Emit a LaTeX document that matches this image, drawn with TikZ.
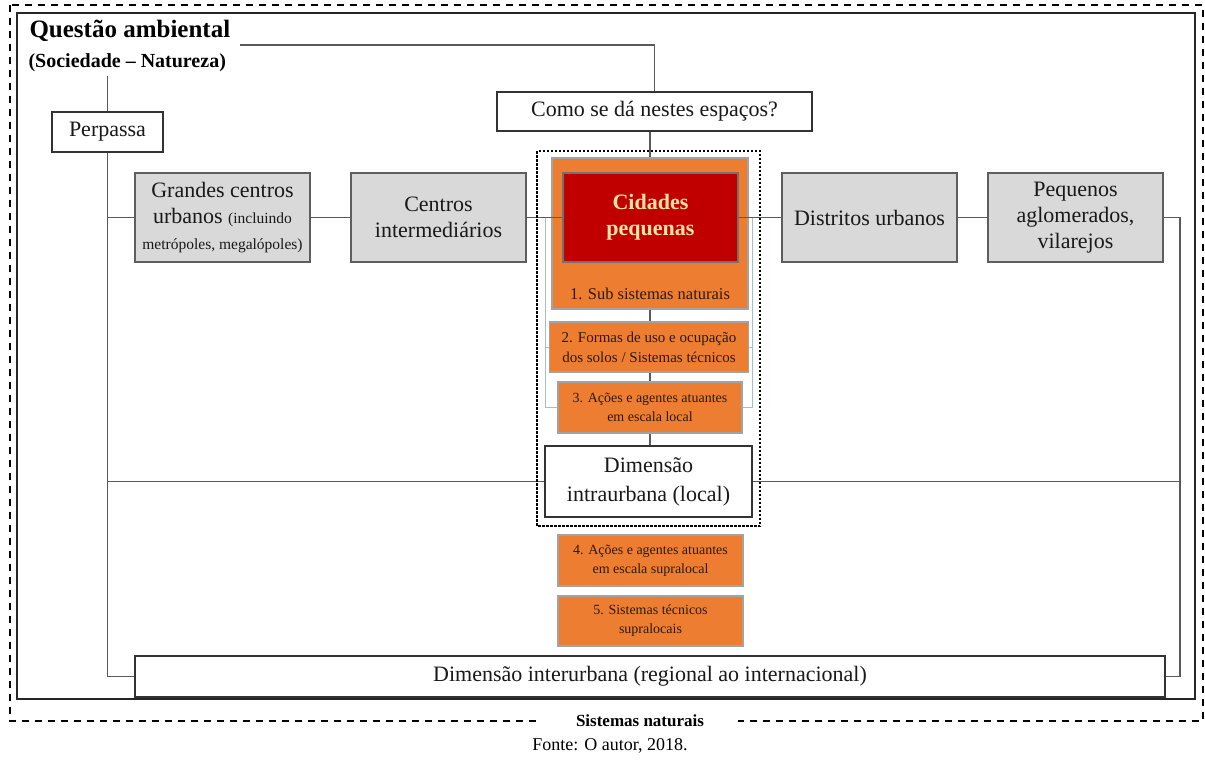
\documentclass[tikz,border=0pt]{standalone}
\usepackage{fontspec}
\setmainfont{Liberation Serif}

\definecolor{boxgray}{HTML}{D9D9D9}
\definecolor{edgegray}{HTML}{5E5E5E}
\definecolor{boxorange}{HTML}{ED7D31}
\definecolor{orangeedge}{HTML}{A3A3A3}
\definecolor{cidred}{HTML}{C00000}
\definecolor{cidtext}{HTML}{FFE3A3}
\definecolor{orangetext}{HTML}{2E1A0E}
\definecolor{linkgray}{HTML}{5A5A5A}
\definecolor{faintblue}{HTML}{A9BCD0}

\newcommand{\titlefs}{\fontsize{25}{29}\selectfont\bfseries}
\newcommand{\subfs}{\fontsize{20}{24}\selectfont\bfseries}
\newcommand{\mainfs}{\fontsize{22}{26}\selectfont}
\newcommand{\smallfs}{\fontsize{15.5}{18}\selectfont}
\newcommand{\midfs}{\fontsize{16.5}{20}\selectfont}
\newcommand{\formfs}{\fontsize{15}{20}\selectfont}
\newcommand{\boxfs}{\fontsize{14}{19}\selectfont}
\newcommand{\natfs}{\fontsize{17}{20}\selectfont\bfseries}
\newcommand{\fontefs}{\fontsize{18}{21}\selectfont}

\tikzset{
  outerframe/.style={draw=black, line width=2pt, dash pattern=on 7pt off 6pt},
  innerframe/.style={draw=black!85, line width=1.3pt},
  dotframe/.style={draw=black, line width=2.8pt, dash pattern=on 2.5pt off 1.5pt},
  graybox/.style={draw=edgegray, fill=boxgray, line width=1.4pt, align=center,
    minimum width=175pt, minimum height=89pt, inner sep=1pt, font=\mainfs, text=black!90},
  whitebox/.style={draw=black!80, fill=white, line width=1.2pt, align=center,
    inner sep=1pt, font=\mainfs, text=black!90},
  orangebox/.style={draw=orangeedge, fill=boxorange, line width=1.4pt, align=center,
    inner sep=1pt, font=\boxfs, text=orangetext},
  redbox/.style={draw=orangeedge!70!black, fill=cidred, line width=1.2pt, align=center,
    minimum width=175pt, minimum height=89pt, font=\mainfs\bfseries, text=cidtext},
  link/.style={draw=linkgray, line width=1.3pt},
  faint/.style={draw=faintblue, line width=0.9pt}
}

\begin{document}
\begin{tikzpicture}[x=1pt,y=-1pt]
\useasboundingbox (0,0) rectangle (1205,764);

% Frames
\draw[outerframe] (10,5) rectangle (1203,721);
\draw[innerframe] (17,13) rectangle (1195,699);

% Title
\node[anchor=base west, font=\titlefs] (qa) at (26,37) {Questão ambiental};
\node[anchor=base west, font=\subfs] (sn) at (25,67) {(Sociedade – Natureza)};
\coordinate (qaend) at (240,45);
\coordinate (qadown) at (107.5,76);

% Boxes
\node[whitebox, minimum width=111pt, minimum height=40pt] (persp) at (107.5,132) {Perpassa};
\node[whitebox, minimum width=315pt, minimum height=39pt] (como) at (654.5,111.5) {Como se dá nestes espaços?};

\node[graybox] (grandes) at (222.5,217.5) {Grandes centros\\urbanos {\smallfs (incluindo}\\{\smallfs metrópoles, megalópoles)}};
\node[graybox] (centros) at (438.5,217.5) {Centros\\intermediários};
\node[orangebox, minimum width=196pt, minimum height=151pt] (cidbg) at (650,233.5) {};
\node[redbox] (cid) at (650.5,217.5) {Cidades\\pequenas};
\node[font=\midfs, text=orangetext] (sub1) at (650,294) {1. Sub sistemas naturais};
\node[graybox] (distritos) at (869.5,217.5) {Distritos urbanos};
\node[graybox] (pequenos) at (1075.5,217.5) {Pequenos\\aglomerados,\\vilarejos};

\node[orangebox, font=\formfs, minimum width=199pt, minimum height=50pt] (formas) at (649,347) {2. Formas de uso e ocupação\\dos solos / Sistemas técnicos};
\node[orangebox, minimum width=184pt, minimum height=51pt] (acoes) at (650,407.5) {3. Ações e agentes atuantes\\em escala local};
\node[whitebox, minimum width=207pt, minimum height=71pt, font=\fontsize{22}{29}\selectfont] (intra) at (648.5,481.5) {Dimensão\\intraurbana (local)};
\node[orangebox, minimum width=185pt, minimum height=51pt] (supra) at (650.5,560.5) {4. Ações e agentes atuantes\\em escala supralocal};
\node[orangebox, minimum width=185pt, minimum height=50pt] (tecn) at (650.5,621) {5. Sistemas técnicos\\supralocais};
\node[whitebox, minimum width=1030pt, minimum height=41pt] (inter) at (650,676.5) {Dimensão interurbana (regional ao internacional)};

% Connectors
\draw[link] (qaend) -| (como.north);
\draw[link] (qadown) -- (persp.north);
\draw[link] (persp.south) |- (inter.west);
\draw[link] (persp.south |- grandes.west) -- (grandes.west);
\draw[link] (grandes.east) -- (centros.west);
\draw[link] (centros.east) -- (cid.west);
\draw[link] (cid.east) -- (distritos.west);
\draw[link] (distritos.east) -- (pequenos.west);
\coordinate (rs) at (1180,217.5);
\draw[link] (pequenos.east) -- (rs) |- (inter.east);
\draw[link] (persp.south |- intra.west) -- (intra.west);
\draw[link] (intra.east) -- (rs |- intra.east);
\draw[link] (como.south -| cidbg.north) -- (cidbg.north);
\draw[link] (cidbg.south) -- (cidbg.south |- formas.north);
\draw[link] (cidbg.south |- formas.south) -- (cidbg.south |- acoes.north);
\draw[link] (acoes.south) -- (acoes.south |- intra.north);

% Local links
\coordinate (fl) at (545,217.5);
\coordinate (fr) at (752,217.5);
\draw[faint] (fl) |- (acoes.west);
\draw[faint] (fr) |- (acoes.east);
\draw[faint] (fl |- formas.west) -- (formas.west);
\draw[faint] (fr |- formas.east) -- (formas.east);

% Local dimension
\draw[dotframe] (537,151) rectangle (760,526);

% Bottom
\node[font=\natfs, fill=white, inner xsep=34pt, inner ysep=1pt] (nat) at (640,721) {Sistemas naturais};
\node[font=\fontefs] (fonte) at (610,746) {Fonte: O autor, 2018.};

\end{tikzpicture}
\end{document}
